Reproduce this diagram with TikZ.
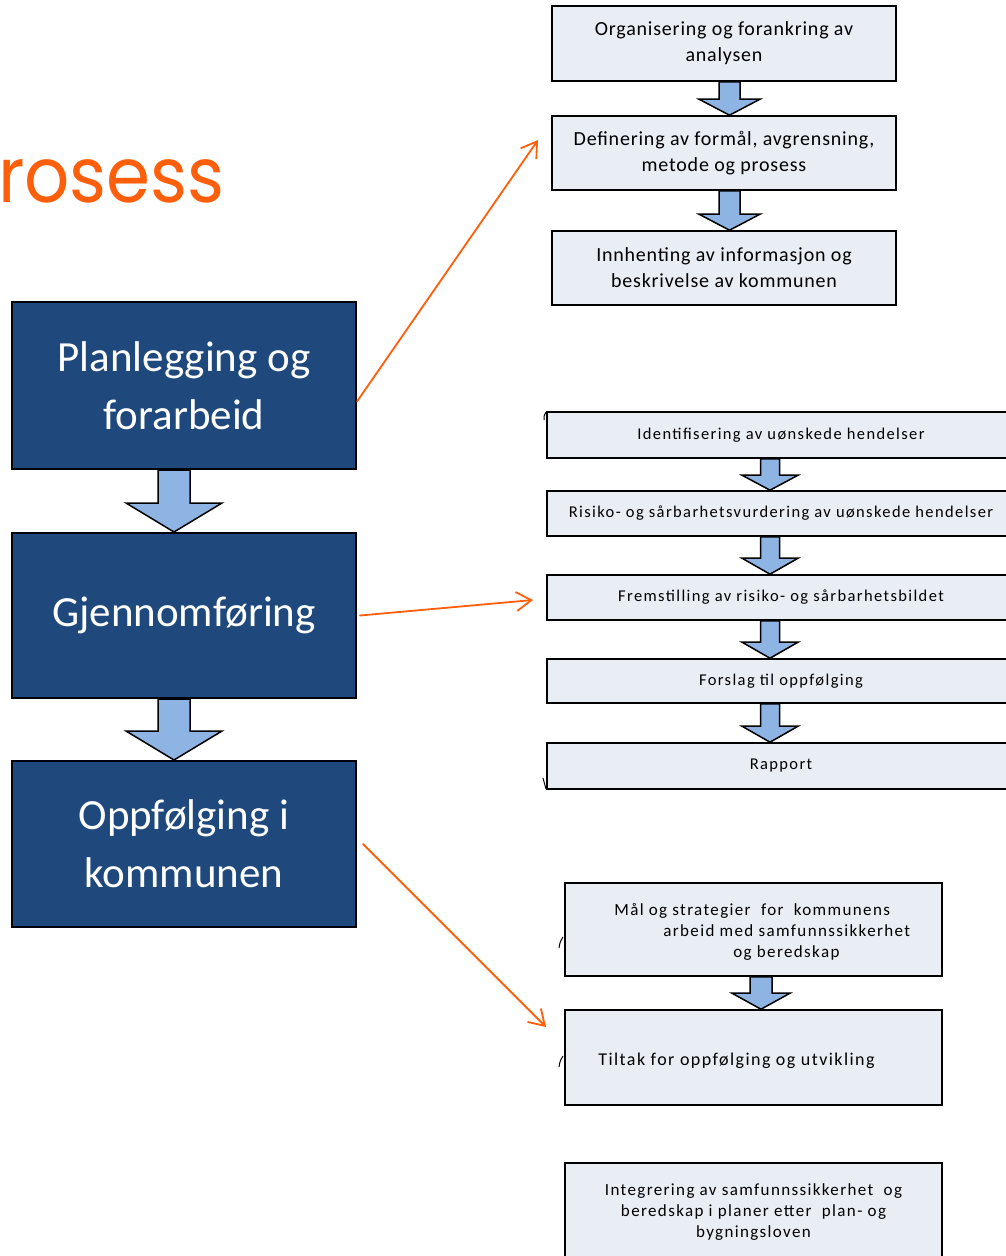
\documentclass[tikz,border=0pt]{standalone}
\usepackage{fontspec}
\setmainfont{Carlito}
\newfontfamily\titlefont{Poppins}
\newfontfamily\topfont{Carlito}[LetterSpace=4]
\newfontfamily\midfont{Carlito}[LetterSpace=8.4]
\newfontfamily\lowfont{Carlito}[LetterSpace=8]
\usetikzlibrary{arrows.meta,calc}

\definecolor{darkbox}{RGB}{31,73,125}
\definecolor{paleblue}{RGB}{233,237,244}
\definecolor{arrowblue}{RGB}{141,180,226}
\definecolor{accent}{RGB}{255,95,10}

\tikzset{
  phase/.style={draw=black, line width=2pt, fill=darkbox, text=white,
    minimum width=344pt, align=center, inner sep=0,
    font=\fontsize{43}{58}\selectfont},
  stepbox/.style={draw=black, line width=1.6pt, fill=paleblue, align=center, inner sep=0},
  topstep/.style={stepbox, minimum width=344pt, font=\topfont\fontsize{20}{26}\selectfont},
  midstep/.style={stepbox, minimum width=468pt, font=\midfont\fontsize{16.5}{20}\selectfont},
  lowstep/.style={stepbox, minimum width=377pt},
  lowtext/.style={inner sep=0, font=\lowfont\fontsize{17}{21}\selectfont},
  blockarrow/.style={draw=black, line width=1.5pt, fill=arrowblue, line join=miter},
  link/.style={draw=accent, line width=1.8pt, line cap=round,
    -{Straight Barb[length=15pt,width=19pt,line width=1.8pt]}},
  penstroke/.style={draw=black, line width=1pt},
}

% block arrow pointing down from node #1 to node #2
% #3 x of the axis, #4 half shaft width, #5 half head width, #6 head length
\newcommand{\flowarrow}[6]{%
  \coordinate (fa) at (#3,0);
  \draw[blockarrow]
    ($(fa |- #1.south)+(-#4,0)$) --
    ($(fa |- #2.north)+(-#4,-#6)$) --
    ($(fa |- #2.north)+(-#5,-#6)$) --
    (fa |- #2.north) --
    ($(fa |- #2.north)+(#5,-#6)$) --
    ($(fa |- #2.north)+(#4,-#6)$) --
    ($(fa |- #1.south)+(#4,0)$) -- cycle;
}

\begin{document}
\begin{tikzpicture}[x=1pt,y=-1pt]
  \fill[white] (0,0) rectangle (1005,1256);
  \useasboundingbox (0,0) rectangle (1005,1256);

  % heading
  \node[anchor=base west, inner sep=0, text=accent, xscale=0.92,
        font=\titlefont\fontsize{77}{77}\selectfont] (title) at (-2,202) {rosess};

  % the three phases
  \node[phase, minimum height=167pt] (plan) at (184,385.5) {Planlegging og\\forarbeid};
  \node[phase, minimum height=165pt] (gjen) at (184,615.5) {Gjennomføring};
  \node[phase, minimum height=166pt] (oppf) at (184,844) {Oppfølging i\\kommunen};
  \flowarrow{plan}{gjen}{174}{16}{48}{29}
  \flowarrow{gjen}{oppf}{174}{16}{48}{29}

  % planning steps
  \node[topstep, minimum height=75pt] (org) at (724,43.5) {Organisering og forankring av\\analysen};
  \node[topstep, minimum height=74pt] (def) at (724,153) {Definering av formål, avgrensning,\\metode og prosess};
  \node[topstep, minimum height=74pt] (inn) at (724,268) {Innhenting av informasjon og\\beskrivelse av kommunen};
  \flowarrow{org}{def}{729.5}{10.5}{30.5}{16}
  \flowarrow{def}{inn}{729.5}{10.5}{30.5}{16}

  % execution steps
  \node[midstep, minimum height=46pt] (ident) at (781,435) {Identifisering av uønskede hendelser};
  \node[midstep, minimum height=45pt] (ros) at (781,513.5) {Risiko- og sårbarhetsvurdering av uønskede hendelser};
  \node[midstep, minimum height=45pt] (frem) at (781,597.5) {Fremstilling av risiko- og sårbarhetsbildet};
  \node[midstep, minimum height=44pt] (fors) at (781,681) {Forslag til oppfølging};
  \node[midstep, minimum height=46pt] (rapp) at (781,766) {Rapport};
  \flowarrow{ident}{ros}{770}{9.5}{28}{15}
  \flowarrow{ros}{frem}{770}{9.5}{28}{16}
  \flowarrow{frem}{fors}{770}{9.5}{28}{16}
  \flowarrow{fors}{rapp}{770}{9.5}{28}{16}

  % follow-up steps
  \node[lowstep, minimum height=93pt] (maal) at (753.5,929.5) {};
  \node[lowtext, anchor=west, align=left] (maaltext) at ([xshift=50pt,yshift=-2pt]maal.west)
    {Mål og strategier\ \ for\ \ kommunens\\\hspace*{49pt}arbeid med samfunnssikkerhet\\\hspace*{119pt}og beredskap};
  \node[lowstep, minimum height=95pt] (tilt) at (753.5,1057.5) {};
  \node[lowtext, anchor=west, font=\lowfont\fontsize{18}{21}\selectfont] (tilttext)
    at ([xshift=34pt,yshift=-3pt]tilt.west) {Tiltak for oppfølging og utvikling};
  \node[lowstep, minimum height=98pt, font=\lowfont\fontsize{17}{21}\selectfont] (integ) at (753.5,1212)
    {Integrering av samfunnssikkerhet\ \ og\\beredskap i planer etter\ \ plan- og\\bygningsloven};
  \flowarrow{maal}{tilt}{761}{11}{29}{16}

  % links from phases to their steps
  \coordinate (planend) at (538,140);
  \coordinate (gjenend) at (533,600);
  \coordinate (oppfend) at (546,1027);
  \draw[link] ([yshift=-16pt]plan.east) -- (planend);
  \draw[link] ([xshift=3pt]gjen.east) -- (gjenend);
  \draw[link] ([xshift=6pt]oppf.east) -- (oppfend);

  % small pen strokes at the box edges
  \draw[penstroke] (544,420) .. controls (544,415) .. (547,411);
  \draw[penstroke] (543,778) .. controls (544,784) .. (546,789);
  \draw[penstroke] (559,948) .. controls (560,942) .. (563,937);
  \draw[penstroke] (559,1067) .. controls (560,1061) .. (563,1056);
\end{tikzpicture}
\end{document}
